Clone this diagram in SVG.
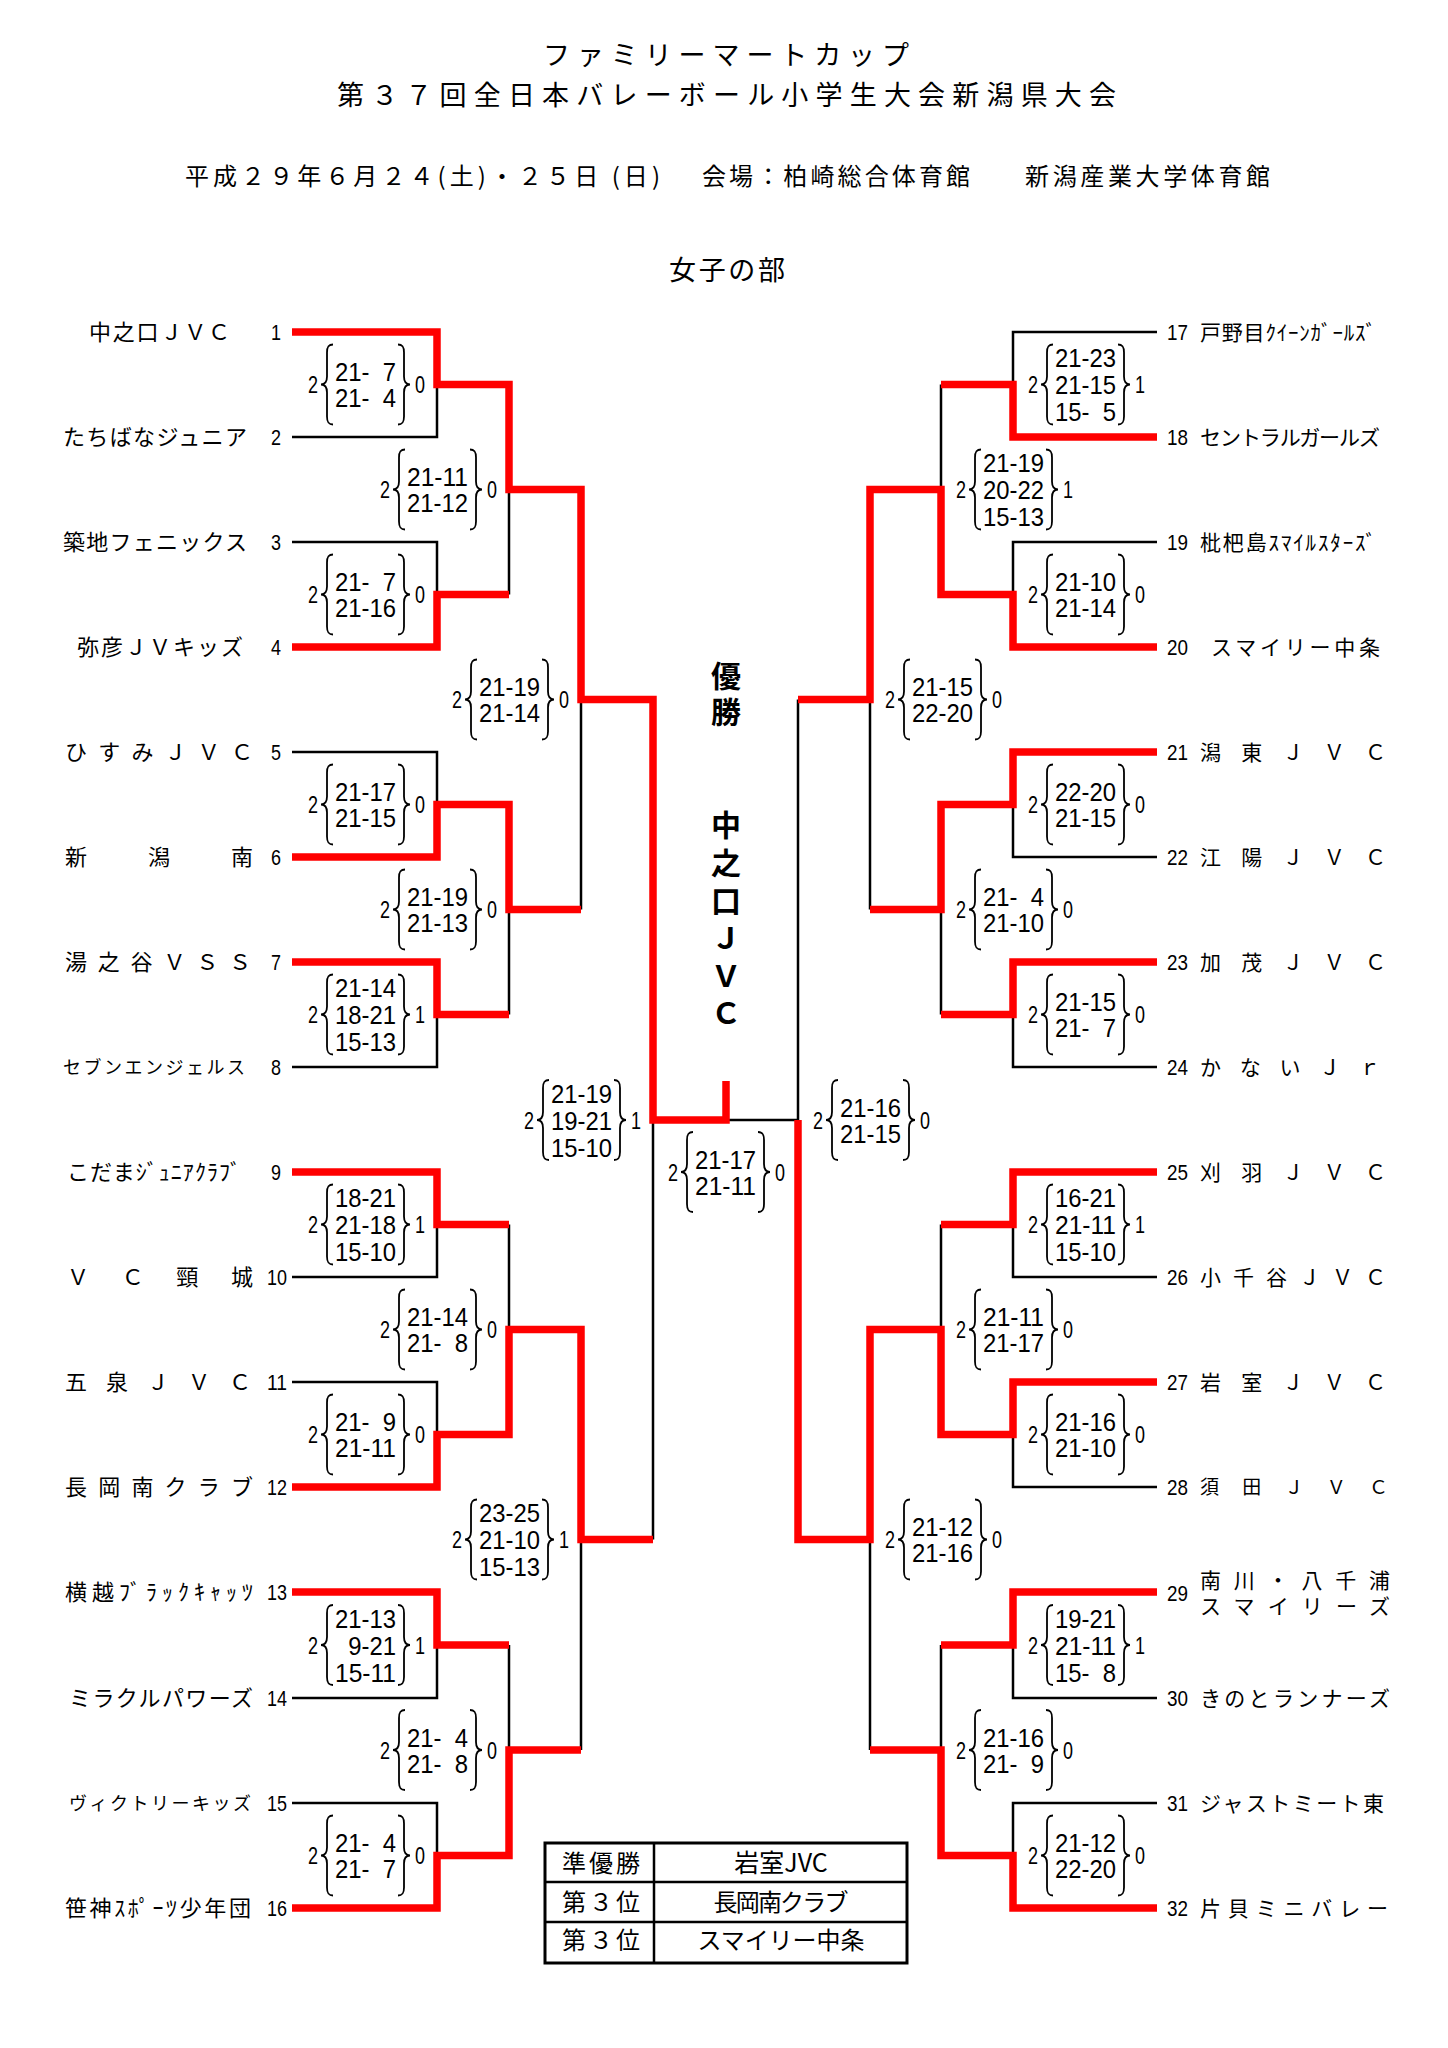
<svg xmlns="http://www.w3.org/2000/svg" width="1448" height="2048" viewBox="0 0 1448 2048">
<style>
text{fill:#000;font-family:"Noto Sans CJK JP","Noto Sans CJK SC",sans-serif}
.ti{font-size:27px}
.h3{font-size:24px}
.nm{font-size:22px}
.nms{font-size:18px}
.nr{font-size:21px}
.num{font-family:"Liberation Sans",Arial,sans-serif;font-size:22px}
.s{font-family:"Liberation Sans",Arial,sans-serif;font-size:26px}
.o{font-family:"Liberation Sans",Arial,sans-serif;font-size:24px}
.ch{font-size:30px;font-weight:700;writing-mode:vertical-rl}
.tb{font-size:24px}
.bk{fill:none;stroke:#000;stroke-width:2.5;stroke-linejoin:miter}
.rd{fill:none;stroke:#ff0000;stroke-width:7.5;stroke-linejoin:miter;stroke-linecap:butt}
.m use{fill:none;stroke:#000;stroke-width:1.8}
</style>
<defs>
<path id="lb" d="M25,-40 C20,-40 19,-37 19,-32 L19,-8 C19,-3 17,0 13,0 C17,0 19,3 19,8 L19,32 C19,37 20,40 25,40"/>
<path id="rb" d="M90,-40 C95,-40 96,-37 96,-32 L96,-8 C96,-3 98,0 102,0 C98,0 96,3 96,8 L96,32 C96,37 95,40 90,40"/>
</defs>
<rect width="1448" height="2048" fill="#fff"/>

<g id="header">
<text class="ti" x="543" y="65" textLength="366" lengthAdjust="spacing">ファミリーマートカップ</text>
<text class="ti" x="337" y="105" textLength="779" lengthAdjust="spacing">第３７回全日本バレーボール小学生大会新潟県大会</text>
<text class="h3" x="185" y="185" textLength="475" lengthAdjust="spacing">平成２９年６月２４(土)・２５日 (日)</text>
<text class="h3" x="702" y="185" textLength="268" lengthAdjust="spacing">会場：柏崎総合体育館</text>
<text class="h3" x="1025" y="185" textLength="245" lengthAdjust="spacing">新潟産業大学体育館</text>
<text x="669" y="280" style="font-size:27px" textLength="116" lengthAdjust="spacing">女子の部</text>
</g>

<g id="connectors">
<path class="bk" d="M292,332H437V437H292 M437,384.5H509 M292,542H437V647H292 M437,594.5H509 M292,752H437V857H292 M437,804.5H509 M292,962H437V1067H292 M437,1014.5H509 M292,1172H437V1277H292 M437,1224.5H509 M292,1382H437V1487H292 M437,1434.5H509 M292,1592H437V1698H292 M437,1645H509 M292,1803H437V1908H292 M437,1855.5H509 M509,384.5V594.5 M509,489.5H581 M509,804.5V1014.5 M509,909.5H581 M509,1224.5V1434.5 M509,1329.5H581 M509,1645V1855.5 M509,1750H581 M581,489.5V909.5 M581,699.5H653 M581,1329.5V1750 M581,1539.5H653 M653,699.5V1539.5 M653,1120H798"/>
<path class="bk" d="M1157,332H1013V437H1157 M1013,384.5H941 M1157,542H1013V647H1157 M1013,594.5H941 M1157,752H1013V857H1157 M1013,804.5H941 M1157,962H1013V1067H1157 M1013,1014.5H941 M1157,1172H1013V1277H1157 M1013,1224.5H941 M1157,1382H1013V1487H1157 M1013,1434.5H941 M1157,1592H1013V1698H1157 M1013,1645H941 M1157,1803H1013V1908H1157 M1013,1855.5H941 M941,384.5V594.5 M941,489.5H870 M941,804.5V1014.5 M941,909.5H870 M941,1224.5V1434.5 M941,1329.5H870 M941,1645V1855.5 M941,1750H870 M870,489.5V909.5 M870,699.5H798 M870,1329.5V1750 M870,1539.5H798 M798,699.5V1539.5"/>
<path class="rd" d="M292,332H437V384.5H509V489.5H581V699.5H653V1120H726V1081"/>
<path class="rd" d="M292,647H437V594.5H509"/>
<path class="rd" d="M292,857H437V804.5H509V909.5H581"/>
<path class="rd" d="M292,962H437V1014.5H509"/>
<path class="rd" d="M292,1172H437V1224.5H509"/>
<path class="rd" d="M292,1487H437V1434.5H509V1329.5H581V1539.5H653"/>
<path class="rd" d="M292,1592H437V1645H509"/>
<path class="rd" d="M292,1908H437V1855.5H509V1750H581"/>
<path class="rd" d="M1157,437H1013V384.5H941"/>
<path class="rd" d="M1157,647H1013V594.5H941V489.5H870V699.5H798"/>
<path class="rd" d="M1157,752H1013V804.5H941V909.5H870"/>
<path class="rd" d="M1157,962H1013V1014.5H941"/>
<path class="rd" d="M1157,1172H1013V1224.5H941"/>
<path class="rd" d="M1157,1382H1013V1434.5H941V1329.5H870V1539.5H798V1120"/>
<path class="rd" d="M1157,1592H1013V1645H941"/>
<path class="rd" d="M1157,1908H1013V1855.5H941V1750H870"/>
</g>

<g id="teams-left">
<g id="team-1"><text class="nm" x="89" y="340" textLength="141" lengthAdjust="spacing">中之口ＪＶＣ</text><text class="num" x="276" y="340" text-anchor="middle" textLength="10" lengthAdjust="spacingAndGlyphs">1</text></g>
<g id="team-2"><text class="nm" x="63" y="445" textLength="184" lengthAdjust="spacing">たちばなジュニア</text><text class="num" x="276" y="445" text-anchor="middle" textLength="10" lengthAdjust="spacingAndGlyphs">2</text></g>
<g id="team-3"><text class="nm" x="63" y="550" textLength="184" lengthAdjust="spacing">築地フェニックス</text><text class="num" x="276" y="550" text-anchor="middle" textLength="10" lengthAdjust="spacingAndGlyphs">3</text></g>
<g id="team-4"><text class="nm" x="77" y="655" textLength="166" lengthAdjust="spacing">弥彦ＪＶキッズ</text><text class="num" x="276" y="655" text-anchor="middle" textLength="10" lengthAdjust="spacingAndGlyphs">4</text></g>
<g id="team-5"><text class="nm" x="65" y="760" textLength="188" lengthAdjust="spacing">ひすみＪＶＣ</text><text class="num" x="276" y="760" text-anchor="middle" textLength="10" lengthAdjust="spacingAndGlyphs">5</text></g>
<g id="team-6"><text class="nm" x="65" y="865" textLength="188" lengthAdjust="spacing">新潟南</text><text class="num" x="276" y="865" text-anchor="middle" textLength="10" lengthAdjust="spacingAndGlyphs">6</text></g>
<g id="team-7"><text class="nm" x="65" y="970" textLength="186" lengthAdjust="spacing">湯之谷ＶＳＳ</text><text class="num" x="276" y="970" text-anchor="middle" textLength="10" lengthAdjust="spacingAndGlyphs">7</text></g>
<g id="team-8"><text class="nms" x="63" y="1074" textLength="182" lengthAdjust="spacing">セブンエンジェルス</text><text class="num" x="276" y="1075" text-anchor="middle" textLength="10" lengthAdjust="spacingAndGlyphs">8</text></g>
<g id="team-9"><text class="nm" x="67" y="1180" textLength="174" lengthAdjust="spacing">こだまｼﾞｭﾆｱｸﾗﾌﾞ</text><text class="num" x="276" y="1180" text-anchor="middle" textLength="10" lengthAdjust="spacingAndGlyphs">9</text></g>
<g id="team-10"><text class="nm" x="67" y="1285" textLength="186" lengthAdjust="spacing">ＶＣ頸城</text><text class="num" x="277" y="1285" text-anchor="middle" textLength="20" lengthAdjust="spacingAndGlyphs">10</text></g>
<g id="team-11"><text class="nm" x="65" y="1390" textLength="186" lengthAdjust="spacing">五泉ＪＶＣ</text><text class="num" x="277" y="1390" text-anchor="middle" textLength="20" lengthAdjust="spacingAndGlyphs">11</text></g>
<g id="team-12"><text class="nm" x="65" y="1495" textLength="188" lengthAdjust="spacing">長岡南クラブ</text><text class="num" x="277" y="1495" text-anchor="middle" textLength="20" lengthAdjust="spacingAndGlyphs">12</text></g>
<g id="team-13"><text class="nm" x="65" y="1600" textLength="188" lengthAdjust="spacing">横越ﾌﾞﾗｯｸｷｬｯﾂ</text><text class="num" x="277" y="1600" text-anchor="middle" textLength="20" lengthAdjust="spacingAndGlyphs">13</text></g>
<g id="team-14"><text class="nm" x="69" y="1706" textLength="184" lengthAdjust="spacing">ミラクルパワーズ</text><text class="num" x="277" y="1706" text-anchor="middle" textLength="20" lengthAdjust="spacingAndGlyphs">14</text></g>
<g id="team-15"><text class="nms" x="69" y="1810" textLength="182" lengthAdjust="spacing">ヴィクトリーキッズ</text><text class="num" x="277" y="1811" text-anchor="middle" textLength="20" lengthAdjust="spacingAndGlyphs">15</text></g>
<g id="team-16"><text class="nm" x="65" y="1916" textLength="186" lengthAdjust="spacing">笹神ｽﾎﾟｰﾂ少年団</text><text class="num" x="277" y="1916" text-anchor="middle" textLength="20" lengthAdjust="spacingAndGlyphs">16</text></g>
</g>

<g id="teams-right">
<g id="team-17"><text class="num" x="1167" y="340" textLength="21" lengthAdjust="spacingAndGlyphs">17</text><text class="nr" x="1200" y="340" textLength="176" lengthAdjust="spacing">戸野目ｸｲｰﾝｶﾞｰﾙｽﾞ</text></g>
<g id="team-18"><text class="num" x="1167" y="445" textLength="21" lengthAdjust="spacingAndGlyphs">18</text><text class="nr" x="1200" y="445" textLength="180" lengthAdjust="spacing">セントラルガールズ</text></g>
<g id="team-19"><text class="num" x="1167" y="550" textLength="21" lengthAdjust="spacingAndGlyphs">19</text><text class="nr" x="1200" y="550" textLength="176" lengthAdjust="spacing">枇杷島ｽﾏｲﾙｽﾀｰｽﾞ</text></g>
<g id="team-20"><text class="num" x="1167" y="655" textLength="21" lengthAdjust="spacingAndGlyphs">20</text><text class="nr" x="1211" y="655" textLength="169" lengthAdjust="spacing">スマイリー中条</text></g>
<g id="team-21"><text class="num" x="1167" y="760" textLength="21" lengthAdjust="spacingAndGlyphs">21</text><text class="nr" x="1200" y="760" textLength="186" lengthAdjust="spacing">潟東ＪＶＣ</text></g>
<g id="team-22"><text class="num" x="1167" y="865" textLength="21" lengthAdjust="spacingAndGlyphs">22</text><text class="nr" x="1200" y="865" textLength="186" lengthAdjust="spacing">江陽ＪＶＣ</text></g>
<g id="team-23"><text class="num" x="1167" y="970" textLength="21" lengthAdjust="spacingAndGlyphs">23</text><text class="nr" x="1200" y="970" textLength="186" lengthAdjust="spacing">加茂ＪＶＣ</text></g>
<g id="team-24"><text class="num" x="1167" y="1075" textLength="21" lengthAdjust="spacingAndGlyphs">24</text><text class="nr" x="1200" y="1075" textLength="180" lengthAdjust="spacing">かないＪｒ</text></g>
<g id="team-25"><text class="num" x="1167" y="1180" textLength="21" lengthAdjust="spacingAndGlyphs">25</text><text class="nr" x="1200" y="1180" textLength="186" lengthAdjust="spacing">刈羽ＪＶＣ</text></g>
<g id="team-26"><text class="num" x="1167" y="1285" textLength="21" lengthAdjust="spacingAndGlyphs">26</text><text class="nr" x="1200" y="1285" textLength="186" lengthAdjust="spacing">小千谷ＪＶＣ</text></g>
<g id="team-27"><text class="num" x="1167" y="1390" textLength="21" lengthAdjust="spacingAndGlyphs">27</text><text class="nr" x="1200" y="1390" textLength="186" lengthAdjust="spacing">岩室ＪＶＣ</text></g>
<g id="team-28"><text class="num" x="1167" y="1495" textLength="21" lengthAdjust="spacingAndGlyphs">28</text><text class="nr" x="1200" y="1494" textLength="188" lengthAdjust="spacing" style="font-size:19px">須田ＪＶＣ</text></g>
<g id="team-29"><text class="num" x="1167" y="1601" textLength="21" lengthAdjust="spacingAndGlyphs">29</text><text class="nr" x="1200" y="1588" textLength="190" lengthAdjust="spacing">南川・八千浦</text><text class="nr" x="1200" y="1614" textLength="190" lengthAdjust="spacing">スマイリーズ</text></g>
<g id="team-30"><text class="num" x="1167" y="1706" textLength="21" lengthAdjust="spacingAndGlyphs">30</text><text class="nr" x="1200" y="1706" textLength="190" lengthAdjust="spacing">きのとランナーズ</text></g>
<g id="team-31"><text class="num" x="1167" y="1811" textLength="21" lengthAdjust="spacingAndGlyphs">31</text><text class="nr" x="1200" y="1811" textLength="184" lengthAdjust="spacing">ジャストミート東</text></g>
<g id="team-32"><text class="num" x="1167" y="1916" textLength="21" lengthAdjust="spacingAndGlyphs">32</text><text class="nr" x="1200" y="1916" textLength="188" lengthAdjust="spacing">片貝ミニバレー</text></g>
</g>

<g id="scores" class="m">
<g transform="translate(308,384.5)"><text class="o" y="8.5" textLength="10" lengthAdjust="spacingAndGlyphs">2</text><use href="#lb"/><text class="s" x="27" y="-3.5" textLength="61" lengthAdjust="spacingAndGlyphs">21-&#160;&#160;7</text><text class="s" x="27" y="22.5" textLength="61" lengthAdjust="spacingAndGlyphs">21-&#160;&#160;4</text><use href="#rb"/><text class="o" x="107" y="8.5" textLength="10" lengthAdjust="spacingAndGlyphs">0</text></g>
<g transform="translate(308,594.5)"><text class="o" y="8.5" textLength="10" lengthAdjust="spacingAndGlyphs">2</text><use href="#lb"/><text class="s" x="27" y="-3.5" textLength="61" lengthAdjust="spacingAndGlyphs">21-&#160;&#160;7</text><text class="s" x="27" y="22.5" textLength="61" lengthAdjust="spacingAndGlyphs">21-16</text><use href="#rb"/><text class="o" x="107" y="8.5" textLength="10" lengthAdjust="spacingAndGlyphs">0</text></g>
<g transform="translate(308,804.5)"><text class="o" y="8.5" textLength="10" lengthAdjust="spacingAndGlyphs">2</text><use href="#lb"/><text class="s" x="27" y="-3.5" textLength="61" lengthAdjust="spacingAndGlyphs">21-17</text><text class="s" x="27" y="22.5" textLength="61" lengthAdjust="spacingAndGlyphs">21-15</text><use href="#rb"/><text class="o" x="107" y="8.5" textLength="10" lengthAdjust="spacingAndGlyphs">0</text></g>
<g transform="translate(308,1014.5)"><text class="o" y="8.5" textLength="10" lengthAdjust="spacingAndGlyphs">2</text><use href="#lb"/><text class="s" x="27" y="-17.5" textLength="61" lengthAdjust="spacingAndGlyphs">21-14</text><text class="s" x="27" y="9.5" textLength="61" lengthAdjust="spacingAndGlyphs">18-21</text><text class="s" x="27" y="36.5" textLength="61" lengthAdjust="spacingAndGlyphs">15-13</text><use href="#rb"/><text class="o" x="107" y="8.5" textLength="10" lengthAdjust="spacingAndGlyphs">1</text></g>
<g transform="translate(308,1224.5)"><text class="o" y="8.5" textLength="10" lengthAdjust="spacingAndGlyphs">2</text><use href="#lb"/><text class="s" x="27" y="-17.5" textLength="61" lengthAdjust="spacingAndGlyphs">18-21</text><text class="s" x="27" y="9.5" textLength="61" lengthAdjust="spacingAndGlyphs">21-18</text><text class="s" x="27" y="36.5" textLength="61" lengthAdjust="spacingAndGlyphs">15-10</text><use href="#rb"/><text class="o" x="107" y="8.5" textLength="10" lengthAdjust="spacingAndGlyphs">1</text></g>
<g transform="translate(308,1434.5)"><text class="o" y="8.5" textLength="10" lengthAdjust="spacingAndGlyphs">2</text><use href="#lb"/><text class="s" x="27" y="-3.5" textLength="61" lengthAdjust="spacingAndGlyphs">21-&#160;&#160;9</text><text class="s" x="27" y="22.5" textLength="61" lengthAdjust="spacingAndGlyphs">21-11</text><use href="#rb"/><text class="o" x="107" y="8.5" textLength="10" lengthAdjust="spacingAndGlyphs">0</text></g>
<g transform="translate(308,1645)"><text class="o" y="8.5" textLength="10" lengthAdjust="spacingAndGlyphs">2</text><use href="#lb"/><text class="s" x="27" y="-17.5" textLength="61" lengthAdjust="spacingAndGlyphs">21-13</text><text class="s" x="27" y="9.5" textLength="61" lengthAdjust="spacingAndGlyphs">&#160;&#160;9-21</text><text class="s" x="27" y="36.5" textLength="61" lengthAdjust="spacingAndGlyphs">15-11</text><use href="#rb"/><text class="o" x="107" y="8.5" textLength="10" lengthAdjust="spacingAndGlyphs">1</text></g>
<g transform="translate(308,1855.5)"><text class="o" y="8.5" textLength="10" lengthAdjust="spacingAndGlyphs">2</text><use href="#lb"/><text class="s" x="27" y="-3.5" textLength="61" lengthAdjust="spacingAndGlyphs">21-&#160;&#160;4</text><text class="s" x="27" y="22.5" textLength="61" lengthAdjust="spacingAndGlyphs">21-&#160;&#160;7</text><use href="#rb"/><text class="o" x="107" y="8.5" textLength="10" lengthAdjust="spacingAndGlyphs">0</text></g>
<g transform="translate(380,489.5)"><text class="o" y="8.5" textLength="10" lengthAdjust="spacingAndGlyphs">2</text><use href="#lb"/><text class="s" x="27" y="-3.5" textLength="61" lengthAdjust="spacingAndGlyphs">21-11</text><text class="s" x="27" y="22.5" textLength="61" lengthAdjust="spacingAndGlyphs">21-12</text><use href="#rb"/><text class="o" x="107" y="8.5" textLength="10" lengthAdjust="spacingAndGlyphs">0</text></g>
<g transform="translate(380,909.5)"><text class="o" y="8.5" textLength="10" lengthAdjust="spacingAndGlyphs">2</text><use href="#lb"/><text class="s" x="27" y="-3.5" textLength="61" lengthAdjust="spacingAndGlyphs">21-19</text><text class="s" x="27" y="22.5" textLength="61" lengthAdjust="spacingAndGlyphs">21-13</text><use href="#rb"/><text class="o" x="107" y="8.5" textLength="10" lengthAdjust="spacingAndGlyphs">0</text></g>
<g transform="translate(380,1329.5)"><text class="o" y="8.5" textLength="10" lengthAdjust="spacingAndGlyphs">2</text><use href="#lb"/><text class="s" x="27" y="-3.5" textLength="61" lengthAdjust="spacingAndGlyphs">21-14</text><text class="s" x="27" y="22.5" textLength="61" lengthAdjust="spacingAndGlyphs">21-&#160;&#160;8</text><use href="#rb"/><text class="o" x="107" y="8.5" textLength="10" lengthAdjust="spacingAndGlyphs">0</text></g>
<g transform="translate(380,1750)"><text class="o" y="8.5" textLength="10" lengthAdjust="spacingAndGlyphs">2</text><use href="#lb"/><text class="s" x="27" y="-3.5" textLength="61" lengthAdjust="spacingAndGlyphs">21-&#160;&#160;4</text><text class="s" x="27" y="22.5" textLength="61" lengthAdjust="spacingAndGlyphs">21-&#160;&#160;8</text><use href="#rb"/><text class="o" x="107" y="8.5" textLength="10" lengthAdjust="spacingAndGlyphs">0</text></g>
<g transform="translate(452,699.5)"><text class="o" y="8.5" textLength="10" lengthAdjust="spacingAndGlyphs">2</text><use href="#lb"/><text class="s" x="27" y="-3.5" textLength="61" lengthAdjust="spacingAndGlyphs">21-19</text><text class="s" x="27" y="22.5" textLength="61" lengthAdjust="spacingAndGlyphs">21-14</text><use href="#rb"/><text class="o" x="107" y="8.5" textLength="10" lengthAdjust="spacingAndGlyphs">0</text></g>
<g transform="translate(452,1539.5)"><text class="o" y="8.5" textLength="10" lengthAdjust="spacingAndGlyphs">2</text><use href="#lb"/><text class="s" x="27" y="-17.5" textLength="61" lengthAdjust="spacingAndGlyphs">23-25</text><text class="s" x="27" y="9.5" textLength="61" lengthAdjust="spacingAndGlyphs">21-10</text><text class="s" x="27" y="36.5" textLength="61" lengthAdjust="spacingAndGlyphs">15-13</text><use href="#rb"/><text class="o" x="107" y="8.5" textLength="10" lengthAdjust="spacingAndGlyphs">1</text></g>
<g transform="translate(524,1120)"><text class="o" y="8.5" textLength="10" lengthAdjust="spacingAndGlyphs">2</text><use href="#lb"/><text class="s" x="27" y="-17.5" textLength="61" lengthAdjust="spacingAndGlyphs">21-19</text><text class="s" x="27" y="9.5" textLength="61" lengthAdjust="spacingAndGlyphs">19-21</text><text class="s" x="27" y="36.5" textLength="61" lengthAdjust="spacingAndGlyphs">15-10</text><use href="#rb"/><text class="o" x="107" y="8.5" textLength="10" lengthAdjust="spacingAndGlyphs">1</text></g>
<g transform="translate(668,1172)"><text class="o" y="8.5" textLength="10" lengthAdjust="spacingAndGlyphs">2</text><use href="#lb"/><text class="s" x="27" y="-3.5" textLength="61" lengthAdjust="spacingAndGlyphs">21-17</text><text class="s" x="27" y="22.5" textLength="61" lengthAdjust="spacingAndGlyphs">21-11</text><use href="#rb"/><text class="o" x="107" y="8.5" textLength="10" lengthAdjust="spacingAndGlyphs">0</text></g>
<g transform="translate(1028,384.5)"><text class="o" y="8.5" textLength="10" lengthAdjust="spacingAndGlyphs">2</text><use href="#lb"/><text class="s" x="27" y="-17.5" textLength="61" lengthAdjust="spacingAndGlyphs">21-23</text><text class="s" x="27" y="9.5" textLength="61" lengthAdjust="spacingAndGlyphs">21-15</text><text class="s" x="27" y="36.5" textLength="61" lengthAdjust="spacingAndGlyphs">15-&#160;&#160;5</text><use href="#rb"/><text class="o" x="107" y="8.5" textLength="10" lengthAdjust="spacingAndGlyphs">1</text></g>
<g transform="translate(1028,594.5)"><text class="o" y="8.5" textLength="10" lengthAdjust="spacingAndGlyphs">2</text><use href="#lb"/><text class="s" x="27" y="-3.5" textLength="61" lengthAdjust="spacingAndGlyphs">21-10</text><text class="s" x="27" y="22.5" textLength="61" lengthAdjust="spacingAndGlyphs">21-14</text><use href="#rb"/><text class="o" x="107" y="8.5" textLength="10" lengthAdjust="spacingAndGlyphs">0</text></g>
<g transform="translate(1028,804.5)"><text class="o" y="8.5" textLength="10" lengthAdjust="spacingAndGlyphs">2</text><use href="#lb"/><text class="s" x="27" y="-3.5" textLength="61" lengthAdjust="spacingAndGlyphs">22-20</text><text class="s" x="27" y="22.5" textLength="61" lengthAdjust="spacingAndGlyphs">21-15</text><use href="#rb"/><text class="o" x="107" y="8.5" textLength="10" lengthAdjust="spacingAndGlyphs">0</text></g>
<g transform="translate(1028,1014.5)"><text class="o" y="8.5" textLength="10" lengthAdjust="spacingAndGlyphs">2</text><use href="#lb"/><text class="s" x="27" y="-3.5" textLength="61" lengthAdjust="spacingAndGlyphs">21-15</text><text class="s" x="27" y="22.5" textLength="61" lengthAdjust="spacingAndGlyphs">21-&#160;&#160;7</text><use href="#rb"/><text class="o" x="107" y="8.5" textLength="10" lengthAdjust="spacingAndGlyphs">0</text></g>
<g transform="translate(1028,1224.5)"><text class="o" y="8.5" textLength="10" lengthAdjust="spacingAndGlyphs">2</text><use href="#lb"/><text class="s" x="27" y="-17.5" textLength="61" lengthAdjust="spacingAndGlyphs">16-21</text><text class="s" x="27" y="9.5" textLength="61" lengthAdjust="spacingAndGlyphs">21-11</text><text class="s" x="27" y="36.5" textLength="61" lengthAdjust="spacingAndGlyphs">15-10</text><use href="#rb"/><text class="o" x="107" y="8.5" textLength="10" lengthAdjust="spacingAndGlyphs">1</text></g>
<g transform="translate(1028,1434.5)"><text class="o" y="8.5" textLength="10" lengthAdjust="spacingAndGlyphs">2</text><use href="#lb"/><text class="s" x="27" y="-3.5" textLength="61" lengthAdjust="spacingAndGlyphs">21-16</text><text class="s" x="27" y="22.5" textLength="61" lengthAdjust="spacingAndGlyphs">21-10</text><use href="#rb"/><text class="o" x="107" y="8.5" textLength="10" lengthAdjust="spacingAndGlyphs">0</text></g>
<g transform="translate(1028,1645)"><text class="o" y="8.5" textLength="10" lengthAdjust="spacingAndGlyphs">2</text><use href="#lb"/><text class="s" x="27" y="-17.5" textLength="61" lengthAdjust="spacingAndGlyphs">19-21</text><text class="s" x="27" y="9.5" textLength="61" lengthAdjust="spacingAndGlyphs">21-11</text><text class="s" x="27" y="36.5" textLength="61" lengthAdjust="spacingAndGlyphs">15-&#160;&#160;8</text><use href="#rb"/><text class="o" x="107" y="8.5" textLength="10" lengthAdjust="spacingAndGlyphs">1</text></g>
<g transform="translate(1028,1855.5)"><text class="o" y="8.5" textLength="10" lengthAdjust="spacingAndGlyphs">2</text><use href="#lb"/><text class="s" x="27" y="-3.5" textLength="61" lengthAdjust="spacingAndGlyphs">21-12</text><text class="s" x="27" y="22.5" textLength="61" lengthAdjust="spacingAndGlyphs">22-20</text><use href="#rb"/><text class="o" x="107" y="8.5" textLength="10" lengthAdjust="spacingAndGlyphs">0</text></g>
<g transform="translate(956,489.5)"><text class="o" y="8.5" textLength="10" lengthAdjust="spacingAndGlyphs">2</text><use href="#lb"/><text class="s" x="27" y="-17.5" textLength="61" lengthAdjust="spacingAndGlyphs">21-19</text><text class="s" x="27" y="9.5" textLength="61" lengthAdjust="spacingAndGlyphs">20-22</text><text class="s" x="27" y="36.5" textLength="61" lengthAdjust="spacingAndGlyphs">15-13</text><use href="#rb"/><text class="o" x="107" y="8.5" textLength="10" lengthAdjust="spacingAndGlyphs">1</text></g>
<g transform="translate(956,909.5)"><text class="o" y="8.5" textLength="10" lengthAdjust="spacingAndGlyphs">2</text><use href="#lb"/><text class="s" x="27" y="-3.5" textLength="61" lengthAdjust="spacingAndGlyphs">21-&#160;&#160;4</text><text class="s" x="27" y="22.5" textLength="61" lengthAdjust="spacingAndGlyphs">21-10</text><use href="#rb"/><text class="o" x="107" y="8.5" textLength="10" lengthAdjust="spacingAndGlyphs">0</text></g>
<g transform="translate(956,1329.5)"><text class="o" y="8.5" textLength="10" lengthAdjust="spacingAndGlyphs">2</text><use href="#lb"/><text class="s" x="27" y="-3.5" textLength="61" lengthAdjust="spacingAndGlyphs">21-11</text><text class="s" x="27" y="22.5" textLength="61" lengthAdjust="spacingAndGlyphs">21-17</text><use href="#rb"/><text class="o" x="107" y="8.5" textLength="10" lengthAdjust="spacingAndGlyphs">0</text></g>
<g transform="translate(956,1750)"><text class="o" y="8.5" textLength="10" lengthAdjust="spacingAndGlyphs">2</text><use href="#lb"/><text class="s" x="27" y="-3.5" textLength="61" lengthAdjust="spacingAndGlyphs">21-16</text><text class="s" x="27" y="22.5" textLength="61" lengthAdjust="spacingAndGlyphs">21-&#160;&#160;9</text><use href="#rb"/><text class="o" x="107" y="8.5" textLength="10" lengthAdjust="spacingAndGlyphs">0</text></g>
<g transform="translate(885,699.5)"><text class="o" y="8.5" textLength="10" lengthAdjust="spacingAndGlyphs">2</text><use href="#lb"/><text class="s" x="27" y="-3.5" textLength="61" lengthAdjust="spacingAndGlyphs">21-15</text><text class="s" x="27" y="22.5" textLength="61" lengthAdjust="spacingAndGlyphs">22-20</text><use href="#rb"/><text class="o" x="107" y="8.5" textLength="10" lengthAdjust="spacingAndGlyphs">0</text></g>
<g transform="translate(885,1539.5)"><text class="o" y="8.5" textLength="10" lengthAdjust="spacingAndGlyphs">2</text><use href="#lb"/><text class="s" x="27" y="-3.5" textLength="61" lengthAdjust="spacingAndGlyphs">21-12</text><text class="s" x="27" y="22.5" textLength="61" lengthAdjust="spacingAndGlyphs">21-16</text><use href="#rb"/><text class="o" x="107" y="8.5" textLength="10" lengthAdjust="spacingAndGlyphs">0</text></g>
<g transform="translate(813,1120)"><text class="o" y="8.5" textLength="10" lengthAdjust="spacingAndGlyphs">2</text><use href="#lb"/><text class="s" x="27" y="-3.5" textLength="61" lengthAdjust="spacingAndGlyphs">21-16</text><text class="s" x="27" y="22.5" textLength="61" lengthAdjust="spacingAndGlyphs">21-15</text><use href="#rb"/><text class="o" x="107" y="8.5" textLength="10" lengthAdjust="spacingAndGlyphs">0</text></g>
</g>

<g id="champion">
<text class="ch" x="726" y="661" style="letter-spacing:6px">優勝</text>
<text class="ch" x="726" y="810" style="letter-spacing:7.6px">中之口ＪＶＣ</text>
</g>

<g id="results">
<rect x="545" y="1843" width="362" height="120" fill="none" stroke="#000" stroke-width="3"/>
<path d="M654,1843V1963 M545,1882H907 M545,1922H907" fill="none" stroke="#000" stroke-width="2.5"/>
<text class="tb" x="601" y="1872" text-anchor="middle" textLength="78" lengthAdjust="spacing">準優勝</text>
<text class="tb" x="601" y="1911" text-anchor="middle" textLength="78" lengthAdjust="spacing">第３位</text>
<text class="tb" x="601" y="1949" text-anchor="middle" textLength="78" lengthAdjust="spacing">第３位</text>
<text class="tb" x="781" y="1872" text-anchor="middle" style="font-size:25px">岩室JVC</text>
<text class="tb" x="781" y="1911" text-anchor="middle" textLength="135" lengthAdjust="spacing">長岡南クラブ</text>
<text class="tb" x="781" y="1949" text-anchor="middle" textLength="167" lengthAdjust="spacing">スマイリー中条</text>
</g>
</svg>
